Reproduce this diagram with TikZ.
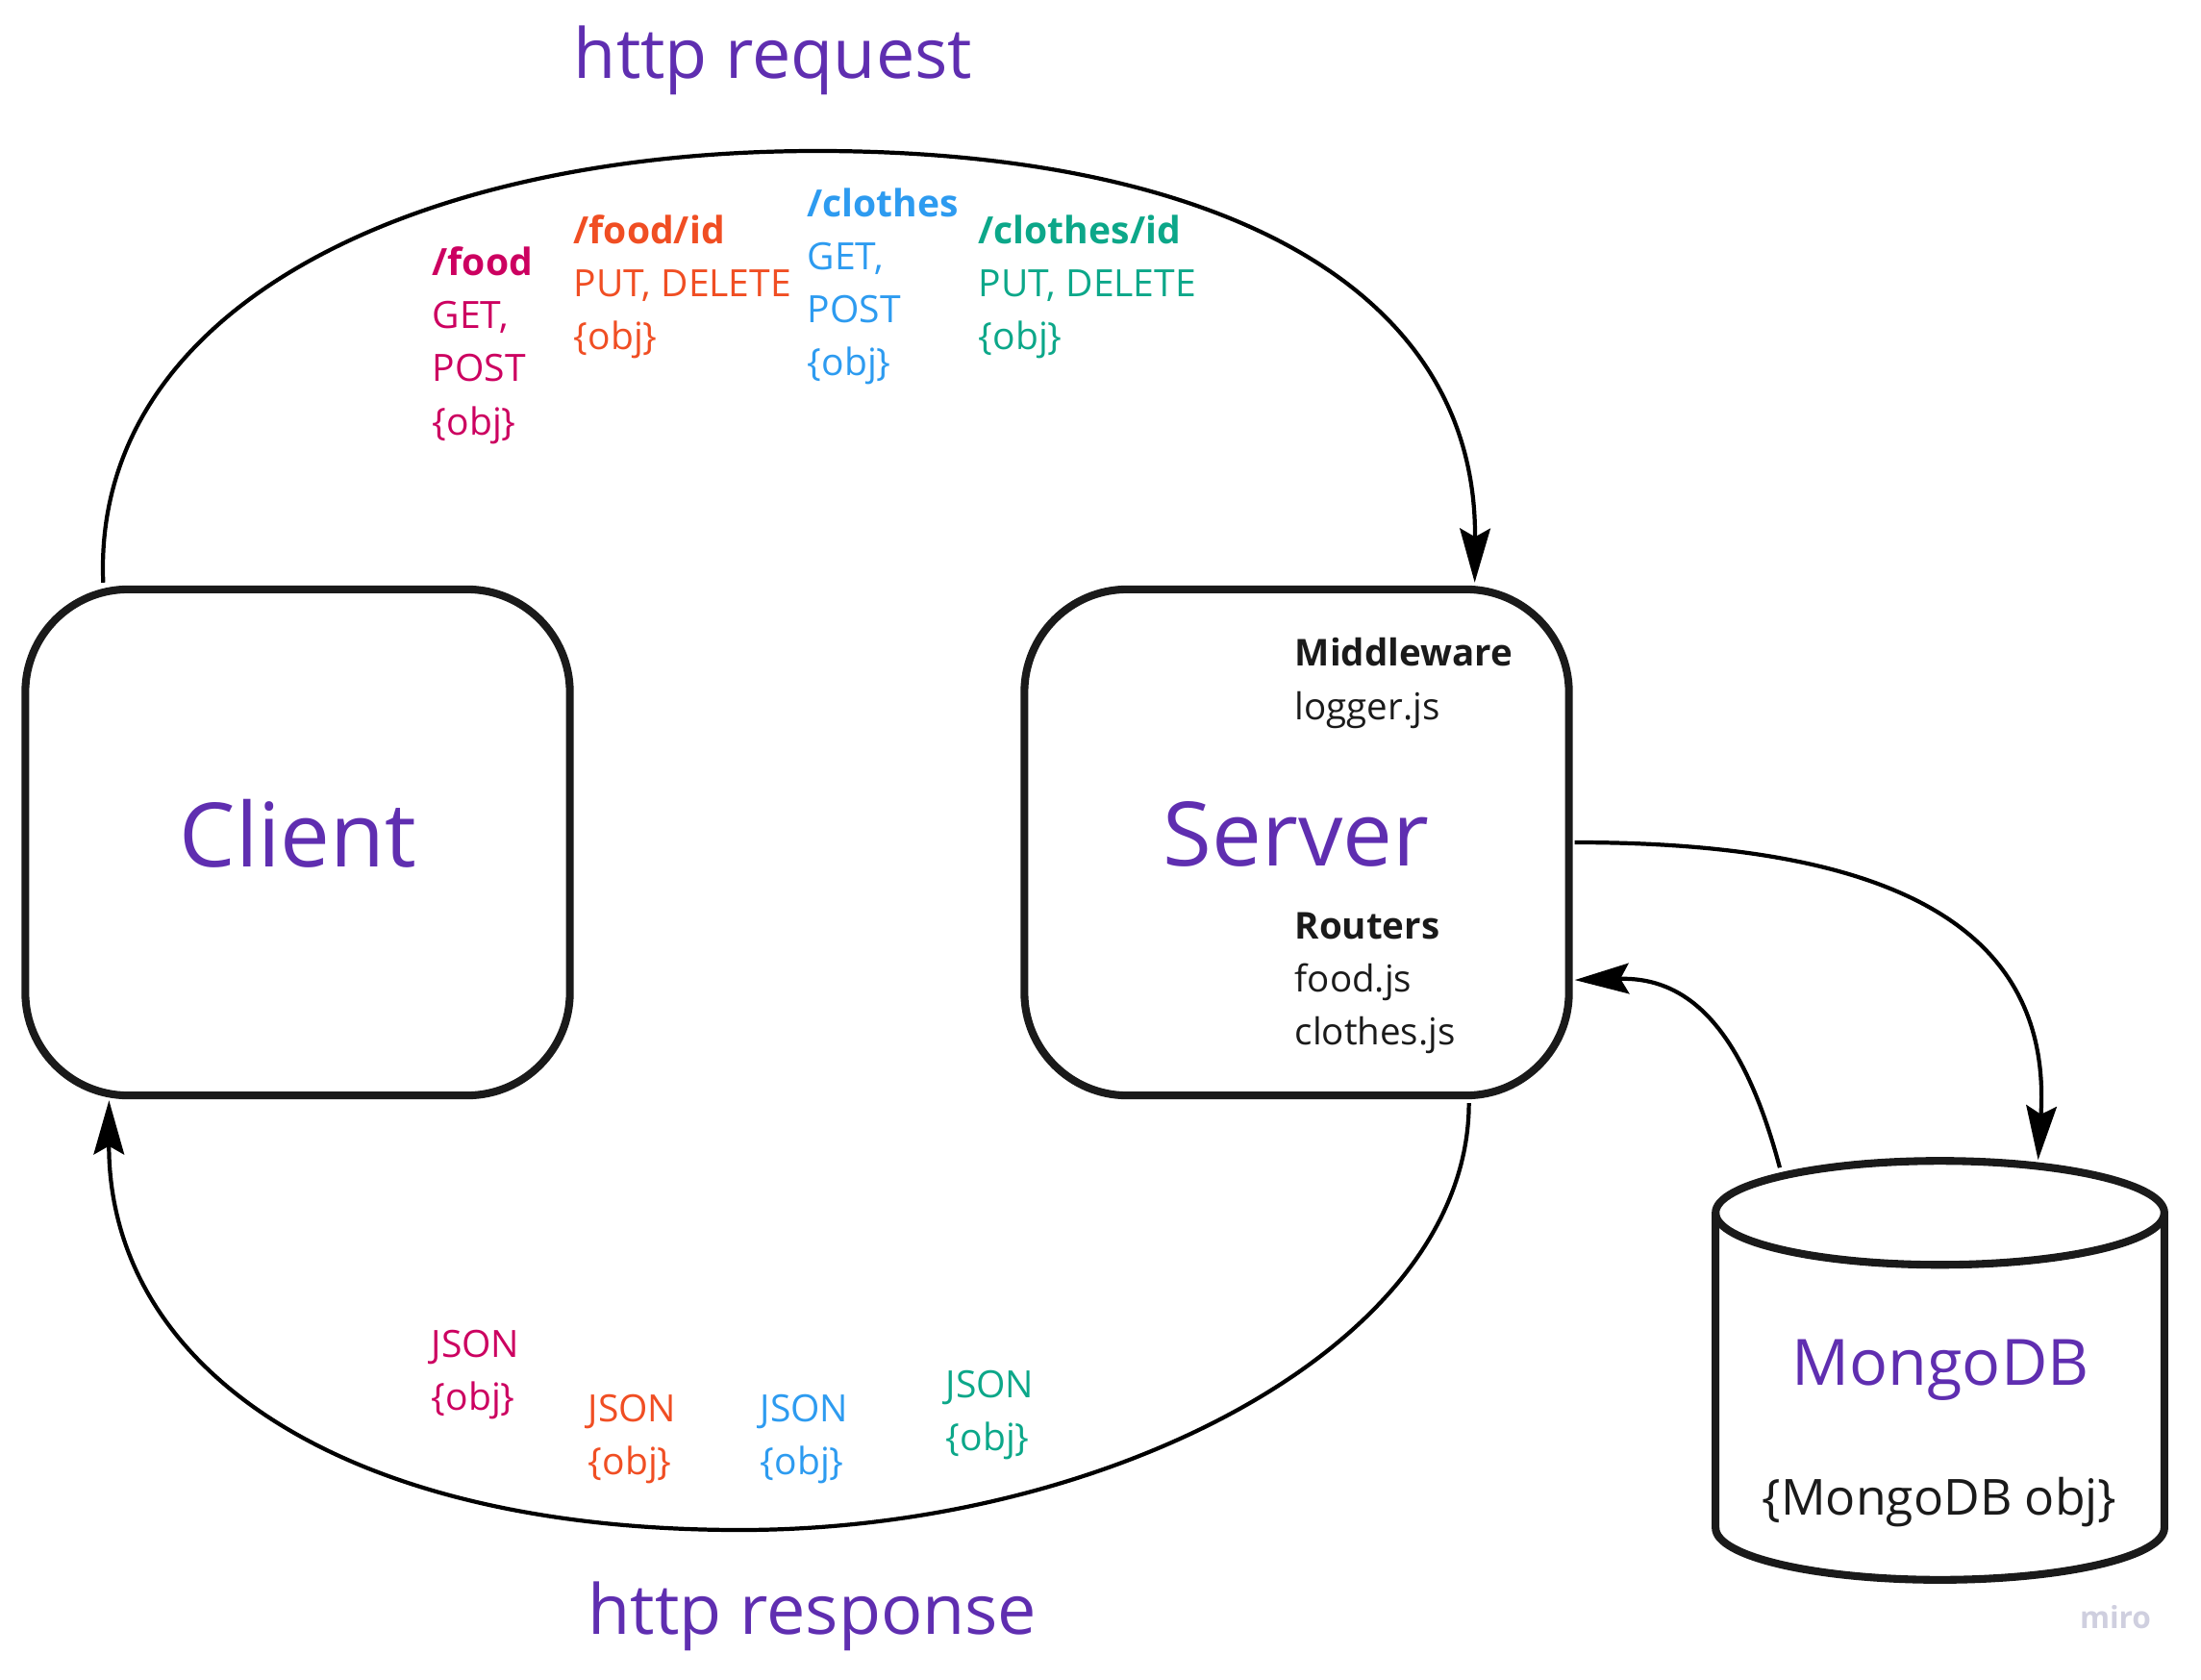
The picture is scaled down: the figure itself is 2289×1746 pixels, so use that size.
\documentclass[tikz,border=0pt]{standalone}
\usepackage{fontspec}
\setmainfont{Open Sans}
\usepackage{xcolor}
\usetikzlibrary{arrows.meta, positioning, shapes.geometric}
\definecolor{purpletxt}{HTML}{5F2EB0}
\definecolor{inkblack}{HTML}{1A1A1A}
\definecolor{foodcol}{HTML}{CC0060}
\definecolor{foodidcol}{HTML}{F04E23}
\definecolor{clothescol}{HTML}{2D9BF0}
\definecolor{clothesidcol}{HTML}{0CA789}
\definecolor{marklabel}{HTML}{CFCFDF}

\begin{document}
\begin{tikzpicture}[
  x=0.01cm, y=-0.01cm,
  box/.style={draw=inkblack, line width=2.3pt, rounded corners=1.07cm, minimum width=5.66cm, minimum height=5.26cm},
  dbshape/.style={minimum width=4.65cm, minimum height=4.35cm, inner sep=0pt},
  dbline/.style={draw=inkblack, line width=2.3pt},
  bigtxt/.style={text=purpletxt, font=\fontsize{26.3}{30}\selectfont, inner sep=0pt},
  httptxt/.style={text=purpletxt, font=\fontsize{20.45}{24}\selectfont, inner sep=0pt},
  smalltxt/.style={anchor=north west, align=left, inner sep=0pt, font=\fontsize{11.1}{15.7}\selectfont},
  blacktxt/.style={anchor=north west, align=left, inner sep=0pt, text=inkblack, font=\fontsize{10.95}{15.7}\selectfont},
  arr/.style={-{Stealth[length=16pt, width=9pt, inset=2.5pt]}, line width=1.2pt, black}
]
\useasboundingbox (0,0) rectangle (2289,1746);

\node[box] (client) at (309.5,876) {};
\node[box] (server) at (1348.5,876) {};
\node[dbshape] (db) at (2017.5,1424.5) {};
\draw[dbline] ([yshift=-0.55cm]db.north) ellipse [x radius=2.332cm, y radius=0.54cm];
\draw[dbline] ([yshift=-0.55cm]db.north west) -- ([yshift=0.54cm]db.south west)
  arc [start angle=180, end angle=360, x radius=2.332cm, y radius=0.54cm] -- ([yshift=-0.55cm]db.north east);

\node[bigtxt] (clientlbl) at (310,867) {Client};
\node[bigtxt] (serverlbl) at (1348,867) {Server};
\node[text=purpletxt, font=\fontsize{18.9}{22}\selectfont, inner sep=0pt] (dblbl) at (2018,1425) {MongoDB};
\node[text=inkblack, font=\fontsize{14.7}{18}\selectfont, inner sep=0pt] (dbobj) at (2017,1562) {\{MongoDB obj\}};
\node[httptxt] (reqlbl) at (804,63) {http request};
\node[httptxt] (reslbl) at (845,1681) {http response};

\node[smalltxt, text=foodcol] (food) at (449,256) {\textbf{/food}\\GET,\\POST\\\{obj\}};
\node[smalltxt, text=foodidcol] (foodid) at (596,223) {\textbf{/food/id}\\PUT, DELETE\\\{obj\}};
\node[smalltxt, text=clothescol] (clothes) at (839,195) {\textbf{/clothes}\\GET,\\POST\\\{obj\}};
\node[smalltxt, text=clothesidcol] (clothesid) at (1017,223) {\textbf{/clothes/id}\\PUT, DELETE\\\{obj\}};

\node[blacktxt] (middleware) at (1346,663) {\textbf{Middleware}\\logger.js};
\node[blacktxt] (routers) at (1346,948) {\textbf{Routers}\\food.js\\clothes.js};

\node[smalltxt, text=foodcol] (foodres) at (448,1382) {JSON\\\{obj\}};
\node[smalltxt, text=foodidcol] (foodidres) at (611,1449) {JSON\\\{obj\}};
\node[smalltxt, text=clothescol] (clothesres) at (790,1449) {JSON\\\{obj\}};
\node[smalltxt, text=clothesidcol] (clothesidres) at (983,1424) {JSON\\\{obj\}};

\node[text=marklabel, font=\bfseries\fontsize{9}{11}\selectfont, inner sep=0pt] (miro) at (2200,1682) {miro};

\draw[arr] ([shift={(0.85cm,0.03cm)}]client.north west) .. controls (95,320) and (430,157) .. (850,157)
  .. controls (1250,157) and (1536,290) .. ([shift={(-1.02cm,0.03cm)}]server.north east);
\draw[arr] ([shift={(-1.08cm,-0.04cm)}]server.south east) .. controls (1527,1400) and (1150,1591) .. (770,1591)
  .. controls (350,1591) and (113,1420) .. ([shift={(0.91cm,-0.01cm)}]client.south west);
\draw[arr] ([shift={(0.02cm,0cm)}]server.east) .. controls (1960,876) and (2135,960) .. ([shift={(1.02cm,0cm)}]db.north);
\draw[arr] ([shift={(-1.665cm,-0.08cm)}]db.north) .. controls (1810,1060) and (1750,1016) .. ([shift={(0.02cm,-1.43cm)}]server.east);
\end{tikzpicture}
\end{document}
